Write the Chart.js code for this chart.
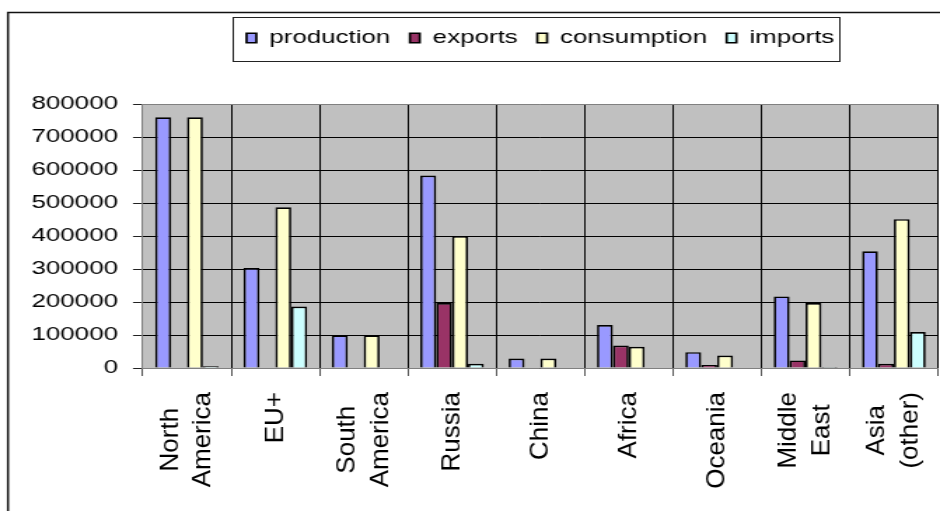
<!DOCTYPE html>
<html>
<head>
<meta charset="utf-8">
<title>Production, exports, consumption and imports by region</title>
<script src="https://cdn.jsdelivr.net/npm/chart.js@4.4.1/dist/chart.umd.min.js"></script>
<style>
  html, body { margin: 0; padding: 0; background: #fff; }
  #chart { display: block; width: 940px !important; height: 511px !important; }
</style>
</head>
<body>
<canvas id="chart" width="671" height="511" style="width:940px;height:511px"></canvas>
<script>
// regions along the x axis (arrays wrap onto two lines)
const categories = [
  ["North", "America"], "EU+", ["South", "America"], "Russia", "China",
  "Africa", "Oceania", ["Middle", "East"], ["Asia", "(other)"]
]
const production = [760000, 303000, 99000, 583000, 29000, 130000, 48000, 217000, 354000]
const exportsData = [0, 0, 0, 197000, 0, 68000, 9000, 23000, 13000]
const consumption = [760000, 487000, 99000, 400000, 29000, 64500, 38000, 197000, 451000]
const imports = [5000, 186000, 0, 13000, 0, 0, 0, 3000, 109000]
const yTicks = [0, 100000, 200000, 300000, 400000, 500000, 600000, 700000, 800000]

// the canvas is drawn narrow and widened by CSS, like the old spreadsheet export
const canvas = document.getElementById("chart")
const STRETCH = 940 / canvas.width

const FONT = '"Liberation Sans", Arial, sans-serif'
Chart.defaults.font.family = FONT
Chart.defaults.color = "#000"

// grey plot background plus the outer frame
const frame = {
  id: "frame",
  beforeDraw(chart) {
    const { ctx, chartArea: a } = chart
    ctx.save()
    ctx.fillStyle = "#c0c0c0"
    ctx.fillRect(a.left, a.top, a.right - a.left, a.bottom - a.top)
    ctx.strokeStyle = "#111"
    ctx.lineWidth = 1.5
    ctx.strokeRect(8 / STRETCH, 12.5, 3000, 3000)
    ctx.restore()
  },
  afterDraw(chart) {
    // box round the legend entries
    const hb = chart.legend.legendHitBoxes
    if (!hb || !hb.length) return
    const { ctx } = chart
    const last = hb[hb.length - 1]
    const l = hb[0].left - 9.5
    const r = last.left + last.width + 4
    const t = hb[0].top - 11.5
    const b = hb[0].top + hb[0].height + 14
    ctx.save()
    ctx.strokeStyle = "#222"
    ctx.lineWidth = 1
    ctx.strokeRect(Math.round(l) + 0.5, Math.round(t) + 0.5, Math.round(r - l), Math.round(b - t))
    ctx.restore()
  }
}

// vertical region names, lines centred on the category
const xLabels = {
  id: "xLabels",
  afterDraw(chart) {
    const { ctx, scales: { x }, chartArea } = chart
    ctx.save()
    ctx.font = "26px " + FONT
    ctx.fillStyle = "#000"
    ctx.textAlign = "center"
    ctx.textBaseline = "middle"
    categories.forEach((label, i) => {
      const lines = [].concat(label)
      const w = Math.max(...lines.map((s) => ctx.measureText(s).width))
      ctx.save()
      ctx.translate(x.getPixelForValue(i), chartArea.bottom + 24)
      ctx.scale(1 / STRETCH, 1)
      ctx.rotate(-Math.PI / 2)
      lines.forEach((s, j) => {
        ctx.fillText(s, -w / 2, (j - (lines.length - 1) / 2) * 33)
      })
      ctx.restore()
    })
    ctx.restore()
  }
}

const bar = (label, data, color) => ({
  label,
  data,
  backgroundColor: color,
  borderColor: "#000",
  borderWidth: 1.7,
  categoryPercentage: 0.72,
  barPercentage: 1.0
})

new Chart(canvas, {
  type: "bar",
  data: {
    labels: categories,
    datasets: [
      bar("production", production, "#9999ff"),
      bar("exports", exportsData, "#993366"),
      bar("consumption", consumption, "#ffffcc"),
      bar("imports", imports, "#ccffff")
    ]
  },
  options: {
    responsive: false,
    animation: false,
    events: [],
    layout: { padding: { top: 14.75, left: 11.8, right: 1.4, bottom: 135 } },
    plugins: {
      tooltip: { enabled: false },
      legend: {
        position: "top",
        fullSize: false,
        labels: {
          font: { size: 18.5 },
          color: "#000",
          boxWidth: 7,
          boxHeight: 9.5,
          padding: 14
        }
      },
      // empty block that keeps the gap between legend and plot
      title: {
        display: true,
        text: "",
        fullSize: false,
        weight: 500,
        font: { size: 10 },
        padding: { top: 0, bottom: 34.75 }
      }
    },
    scales: {
      x: {
        grid: {
          offset: true,
          color: (c) => (c.index === categories.length ? "#808080" : "#000"),
          tickColor: "#555",
          tickLength: 8
        },
        border: { color: "#808080" },
        ticks: { display: false }
      },
      y: {
        min: 0,
        max: 800000,
        afterBuildTicks: (scale) => {
          scale.ticks = yTicks.map((value) => ({ value }))
        },
        grid: {
          color: (c) => (c.tick && c.tick.value === 800000 ? "#808080" : "#000"),
          tickColor: "#222",
          tickLength: 7
        },
        border: { color: "#808080" },
        ticks: {
          font: { size: 18.5 },
          color: "#000",
          padding: 10.7,
          callback: (value) => String(value)
        }
      }
    }
  },
  plugins: [frame, xLabels]
})
</script>
</body>
</html>
